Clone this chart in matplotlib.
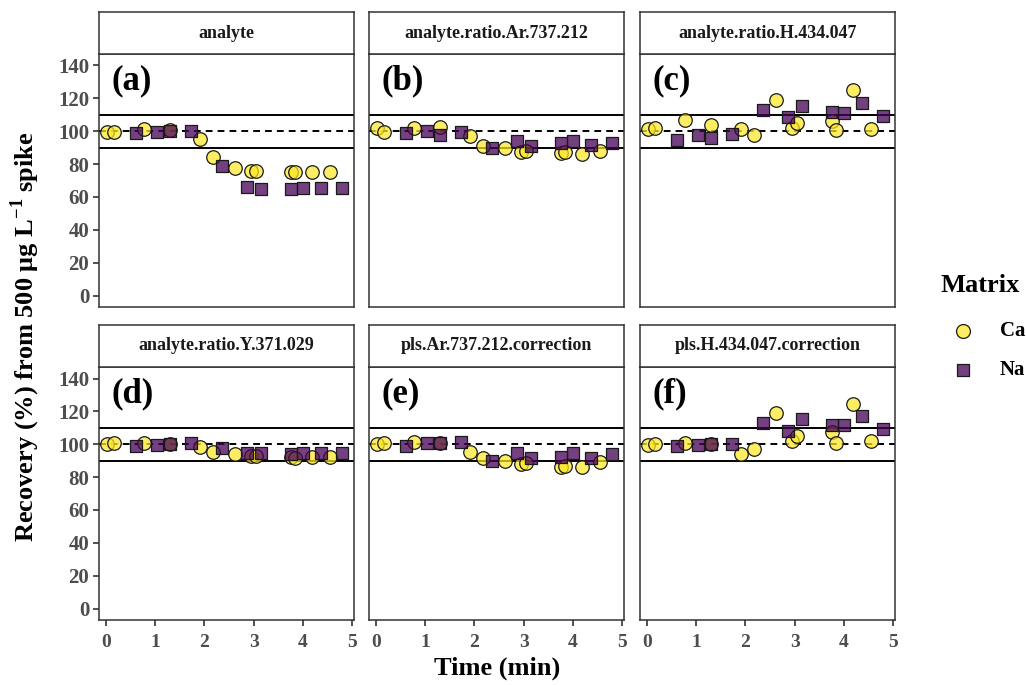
import matplotlib
matplotlib.use("Agg")
import matplotlib.pyplot as plt
from matplotlib.lines import Line2D

plt.rcParams['font.family'] = ['Liberation Serif', 'DejaVu Serif']
plt.rcParams['mathtext.fontset'] = 'custom'
plt.rcParams['mathtext.rm'] = 'Liberation Serif'
plt.rcParams['mathtext.bf'] = 'Liberation Serif:bold'

# ---------------- data ----------------
panel_titles = ["analyte", "analyte.ratio.Ar.737.212", "analyte.ratio.H.434.047",
                "analyte.ratio.Y.371.029", "pls.Ar.737.212.correction", "pls.H.434.047.correction"]
panel_tags = ["(a)", "(b)", "(c)", "(d)", "(e)", "(f)"]

ca_time = [0.02, 0.17, 0.78, 1.30, 1.92, 2.18, 2.62, 2.95, 3.05, 3.75, 3.84, 4.18, 4.55]
na_time = [0.61, 1.05, 1.31, 1.74, 2.35, 2.87, 3.14, 3.76, 4.01, 4.37, 4.80]

ca_a = [99.3, 99.7, 101.1, 100.5, 95.1, 84.5, 77.5, 75.5, 75.5, 74.9, 74.9, 75.3, 75.3]
na_a = [98.7, 99.3, 100.1, 100.3, 79.1, 66.0, 65.0, 65.0, 65.5, 65.5, 65.5]
ca_b = [101.7, 99.7, 101.7, 102.3, 97.3, 91.2, 89.6, 87.6, 88.2, 86.6, 87.2, 86.2, 88.2]
na_b = [98.7, 100.1, 97.7, 99.7, 89.6, 94.2, 91.0, 92.6, 94.2, 91.6, 93.0]
ca_c = [101.3, 101.7, 106.8, 103.7, 101.3, 97.7, 118.9, 101.7, 104.7, 106.4, 100.7, 125.0, 101.1]
na_c = [94.7, 97.7, 96.1, 98.3, 112.8, 108.4, 115.4, 111.4, 111.2, 116.9, 109.2]
ca_d = [100.1, 100.5, 100.5, 100.1, 98.5, 95.5, 94.0, 92.8, 92.8, 92.0, 91.4, 92.4, 92.4]
na_d = [99.1, 99.5, 100.1, 100.9, 97.5, 94.5, 94.5, 94.0, 94.9, 94.5, 94.5]
ca_e = [100.1, 100.5, 101.5, 100.5, 95.1, 91.4, 89.8, 87.8, 88.8, 86.4, 87.0, 86.0, 89.0]
na_e = [99.1, 100.5, 100.5, 101.1, 89.8, 94.5, 91.4, 92.4, 94.5, 91.8, 93.9]
ca_f = [99.3, 100.3, 100.9, 100.3, 94.3, 97.3, 118.9, 101.9, 104.9, 107.3, 100.7, 124.6, 101.9]
na_f = [98.7, 99.3, 100.3, 100.3, 112.8, 108.0, 115.5, 111.4, 111.4, 116.9, 109.0]

ca_values = [ca_a, ca_b, ca_c, ca_d, ca_e, ca_f]
na_values = [na_a, na_b, na_c, na_d, na_e, na_f]

y_ticks = [0, 20, 40, 60, 80, 100, 120, 140]
x_ticks = [0, 1, 2, 3, 4, 5]
ref_solid = [90, 110]
ref_dashed = 100
legend_title = "Matrix"
legend_labels = ["Ca", "Na"]

# ---------------- styling ----------------
W, H = 1026, 685
fig = plt.figure(figsize=(W / 100, H / 100), dpi=100)

ca_fill = (0.992, 0.906, 0.145, 0.72)
na_fill = (0.267, 0.004, 0.329, 0.75)
edge = '#1a1a1a'
frame = '#333333'
tick_col = '#4D4D4D'

col_left = [99, 369, 640]
col_w = 255
row_panel_top = [54, 367]
panel_h = 253
strip_h = 42


def frac(x, y, w, h):
    return [x / W, 1 - (y + h) / H, w / W, h / H]


for i in range(6):
    r, c = divmod(i, 3)
    x0 = col_left[c]
    yt = row_panel_top[r]
    ax = fig.add_axes(frac(x0, yt, col_w, panel_h))
    sax = fig.add_axes(frac(x0, yt - strip_h, col_w, strip_h))

    # strip
    sax.set_xticks([]); sax.set_yticks([])
    for s in sax.spines.values():
        s.set_color(frame); s.set_linewidth(1.1)
    sax.text(0.5, 0.5, panel_titles[i], ha='center', va='center',
             fontsize=13, fontweight='bold', color='#1A1A1A', transform=sax.transAxes)

    # reference lines
    for v in ref_solid:
        ax.axhline(v, color='black', lw=1.4, zorder=1)
    ax.axhline(ref_dashed, color='black', lw=1.4, linestyle=(0, (3.5, 2.6)), zorder=1)

    ax.scatter(ca_time, ca_values[i], s=95, marker='o', facecolor=ca_fill,
               edgecolor=edge, linewidth=0.9, zorder=3)
    ax.scatter(na_time, na_values[i], s=80, marker='s', facecolor=na_fill,
               edgecolor=edge, linewidth=0.9, zorder=3)

    ax.text(0.05, 0.895, panel_tags[i], transform=ax.transAxes, ha='left', va='center',
            fontsize=25, fontweight='bold', color='black')

    ax.set_xlim(-0.135, 5.035)
    ax.set_ylim(-7, 147)
    ax.set_xticks(x_ticks)
    ax.set_yticks(y_ticks)
    for s in ax.spines.values():
        s.set_color(frame); s.set_linewidth(1.1)
    ax.tick_params(axis='both', direction='out', length=4, width=1.2, color=frame,
                   labelcolor=tick_col)
    ax.tick_params(axis='y', labelsize=15, pad=3)
    ax.tick_params(axis='x', labelsize=14, pad=6)
    if c != 0:
        ax.tick_params(axis='y', labelleft=False, length=0)
    if r != 1:
        ax.tick_params(axis='x', labelbottom=False, length=0)
    for lab in ax.get_xticklabels() + ax.get_yticklabels():
        lab.set_fontweight('bold')

# axis labels
fig.text(25 / W, 1 - 337 / H, r'Recovery (%) from 500 μg L$^{\mathbf{-1}}$ spike',
         rotation=90, ha='center', va='center', fontsize=19, fontweight='bold')
fig.text(497 / W, 1 - 668 / H, 'Time (min)', ha='center', va='center',
         fontsize=19, fontweight='bold')

# legend (drawn manually in figure coordinates)
lax = fig.add_axes([0, 0, 1, 1], zorder=-1)
lax.set_xlim(0, W)
lax.set_ylim(H, 0)
lax.axis('off')
lax.text(980, 285, legend_title, ha='center', va='center', fontsize=19, fontweight='bold')
lax.scatter([963], [331], s=100, marker='o', facecolor=ca_fill, edgecolor=edge, linewidth=0.9)
lax.scatter([963], [370], s=81, marker='s', facecolor=na_fill, edgecolor=edge, linewidth=0.9)
lax.text(1000, 331, legend_labels[0], ha='left', va='center', fontsize=15, fontweight='bold')
lax.text(1000, 370, legend_labels[1], ha='left', va='center', fontsize=15, fontweight='bold')

fig.savefig('out.png', dpi=100)
